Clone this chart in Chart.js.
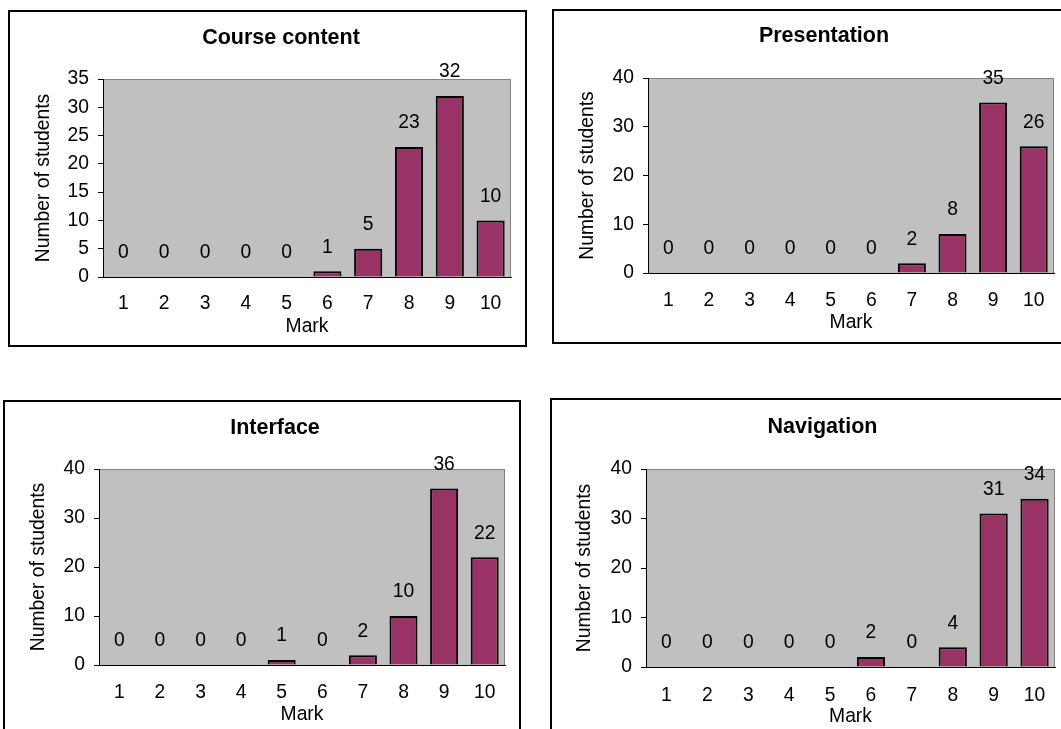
<!DOCTYPE html>
<html>
<head>
<meta charset="utf-8">
<title>Marks</title>
<script src="https://cdn.jsdelivr.net/npm/chart.js@4.4.0/dist/chart.umd.min.js"></script>
<style>
  body { margin: 0; background: #fff; overflow: hidden; width: 1061px; height: 729px; position: relative; }
  .box { position: absolute; border: 2px solid #000; background: #fff; }
  .box canvas { display: block; }
</style>
</head>
<body>
<div class="box" id="box1" style="left:8px;top:10px"><canvas id="chartOne" width="515" height="333"></canvas></div>
<div class="box" id="box2" style="left:552px;top:9px"><canvas id="chartTwo" width="520" height="331"></canvas></div>
<div class="box" id="box3" style="left:3px;top:400px"><canvas id="chartThree" width="514" height="331"></canvas></div>
<div class="box" id="box4" style="left:550px;top:398px"><canvas id="chartFour" width="520" height="333"></canvas></div>
<script>
// datos
const marks = ["1", "2", "3", "4", "5", "6", "7", "8", "9", "10"];
const courseContent = [0, 0, 0, 0, 0, 1, 5, 23, 32, 10];
const presentation = [0, 0, 0, 0, 0, 0, 2, 8, 35, 26];
const interfaceMarks = [0, 0, 0, 0, 1, 0, 2, 10, 36, 22];
const navigation = [0, 0, 0, 0, 0, 2, 0, 4, 31, 34];
const yMaxCourse = 35, yStepCourse = 5;
const yMaxOthers = 40, yStepOthers = 10;

const FONT = 'Arial, "Liberation Sans", sans-serif';
const TXT = 19.3;
const LH = TXT * 1.2;
const TITLE_SIZE = 21.5;
const TITLE_LH = TITLE_SIZE * 1.2;

// fondo gris del area de la grafica
const plotBackground = {
    id: "plotBackground",
    beforeDraw(chart) {
        const { ctx, chartArea: a } = chart;
        ctx.save();
        ctx.fillStyle = "#C0C0C0";
        ctx.fillRect(a.left, a.top, a.right - a.left, a.bottom - a.top);
        ctx.strokeStyle = "#808080";
        ctx.lineWidth = 1;
        ctx.beginPath();
        ctx.moveTo(a.left, a.top + 0.5);
        ctx.lineTo(a.right - 0.5, a.top + 0.5);
        ctx.lineTo(a.right - 0.5, a.bottom);
        ctx.stroke();
        ctx.restore();
    },
};

// valores encima de cada barra
const barValues = {
    id: "barValues",
    afterDatasetsDraw(chart) {
        const ctx = chart.ctx;
        const meta = chart.getDatasetMeta(0);
        const data = chart.data.datasets[0].data;
        ctx.save();
        ctx.font = `${TXT}px ${FONT}`;
        ctx.fillStyle = "#000";
        ctx.textAlign = "center";
        ctx.textBaseline = "middle";
        meta.data.forEach((bar, i) => {
            ctx.fillText(String(data[i]), bar.x, bar.y - 24);
        });
        ctx.restore();
    },
};

// mover el titulo como en Excel
const titleShift = {
    id: "titleShift",
    afterLayout(chart, args, opts) {
        const t = chart.titleBlock;
        if (!t || opts.x === undefined) return;
        const w = t.right - t.left;
        t.left = opts.x - w / 2;
        t.right = opts.x + w / 2;
    },
};

function grafica(id, titulo, valores, yMax, yStep, g) {
    const ctx = document.getElementById(id).getContext("2d");
    const titlePadTop = g.titleY - TITLE_LH / 2;
    return new Chart(ctx, {
        type: "bar",
        data: {
            labels: marks,
            datasets: [
                {
                    data: valores,
                    backgroundColor: "#993366",
                    borderColor: "#000000",
                    borderWidth: 2,
                    barPercentage: 0.69,
                    categoryPercentage: 1,
                },
            ],
        },
        options: {
            responsive: false,
            animation: false,
            devicePixelRatio: 1,
            layout: { padding: { left: 0, top: 0, right: g.w - g.plotR, bottom: 0 } },
            plugins: {
                legend: { display: false },
                tooltip: { enabled: false },
                title: {
                    display: true,
                    text: titulo,
                    color: "#000",
                    font: { family: FONT, size: TITLE_SIZE, weight: "bold", lineHeight: 1.2 },
                    padding: { top: titlePadTop, bottom: g.plotT - titlePadTop - TITLE_LH },
                },
                titleShift: { x: g.titleX },
            },
            scales: {
                x: {
                    grid: { display: false, drawTicks: false, tickLength: 0 },
                    border: { display: true, color: "#000", width: 1 },
                    ticks: {
                        color: "#000",
                        font: { family: FONT, size: TXT },
                        padding: g.xTickY - g.plotB - LH / 2,
                        maxRotation: 0,
                        autoSkip: false,
                    },
                    title: {
                        display: true,
                        text: "Mark",
                        color: "#000",
                        font: { family: FONT, size: TXT },
                        padding: { top: 0, bottom: g.h - g.markY - LH / 2 },
                    },
                    afterFit(s) {
                        s.height = g.h - g.plotB;
                    },
                },
                y: {
                    min: 0,
                    max: yMax,
                    ticks: {
                        stepSize: yStep,
                        color: "#000",
                        font: { family: FONT, size: TXT },
                        padding: 9,
                    },
                    grid: { drawOnChartArea: false, drawTicks: true, tickLength: 5, color: "#000" },
                    border: { color: "#000", width: 1 },
                    title: {
                        display: true,
                        text: "Number of students",
                        color: "#000",
                        font: { family: FONT, size: TXT },
                        padding: { top: g.yTitleX - LH / 2, bottom: 0 },
                    },
                    afterFit(s) {
                        s.width = g.plotL;
                    },
                },
            },
        },
        plugins: [plotBackground, barValues, titleShift],
    });
}

grafica("chartOne", "Course content", courseContent, yMaxCourse, yStepCourse,
    { w: 515, h: 333, plotL: 93, plotR: 501, plotT: 67, plotB: 265, titleX: 271, titleY: 26.5, yTitleX: 34, xTickY: 291.3, markY: 314.5 });
grafica("chartTwo", "Presentation", presentation, yMaxOthers, yStepOthers,
    { w: 520, h: 331, plotL: 94, plotR: 500, plotT: 67, plotB: 262, titleX: 270, titleY: 25.5, yTitleX: 34, xTickY: 290, markY: 312 });
grafica("chartThree", "Interface", interfaceMarks, yMaxOthers, yStepOthers,
    { w: 514, h: 331, plotL: 94, plotR: 500, plotT: 67, plotB: 263, titleX: 270, titleY: 26, yTitleX: 34, xTickY: 290.3, markY: 313 });
grafica("chartFour", "Navigation", navigation, yMaxOthers, yStepOthers,
    { w: 520, h: 333, plotL: 94, plotR: 503, plotT: 69, plotB: 267, titleX: 270.5, titleY: 27, yTitleX: 33, xTickY: 296, markY: 317 });
</script>
</body>
</html>
